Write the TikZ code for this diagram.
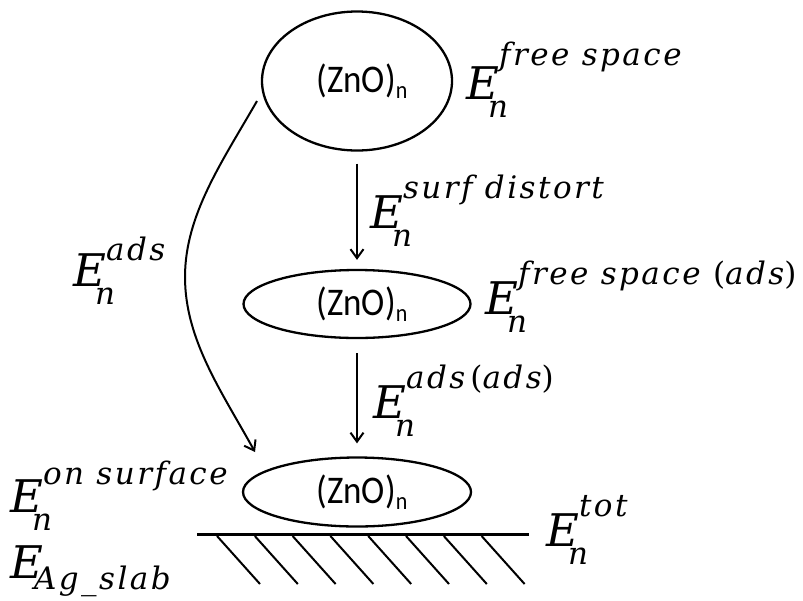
\documentclass[tikz,border=0pt]{standalone}
\usepackage{fontspec}
\usepackage{graphicx}
\usetikzlibrary{shapes.geometric,arrows.meta}
\newfontfamily\labf{DejaVu Serif}
\newfontfamily\scrf{DejaVu Serif}[LetterSpace=8]
\newfontfamily\zfont{Carlito}
\newcommand\Elab[3][31pt]{{\labf\itshape\fontsize{45}{45}\selectfont E}%
  \rlap{\hspace{-11pt}\raisebox{-18pt}{\scrf\itshape\fontsize{31}{31}\selectfont #3}}%
  \hspace{0pt}\raisebox{#1}{\scrf\itshape\fontsize{31}{31}\selectfont #2}}
\newcommand\Esub[1]{{\labf\itshape\fontsize{45}{45}\selectfont E}%
  \hspace{-9pt}\raisebox{-11pt}{\scrf\itshape\fontsize{31}{31}\selectfont #1}}
\newcommand\up[1]{{\upshape #1}}
\newcommand\zno{\hspace{10pt}\scalebox{1}[1.12]{\zfont\fontsize{35}{35}\selectfont (ZnO)\raisebox{-5pt}{\fontsize{22}{22}\selectfont n}}}
\tikzset{
  zell/.style={ellipse, draw, line width=2.3pt, inner sep=0pt},
  arr/.style={line width=2pt, -{Straight Barb[length=9pt,width=13pt,line width=2pt]}},
  lab/.style={anchor=base west, inner sep=0pt},
  hatch/.style={line width=2pt},
}
\begin{document}
\begin{tikzpicture}[x=1pt,y=-1pt]
\useasboundingbox (0,0) rectangle (803,600);
% ellipses
\node[zell, minimum width=190pt, minimum height=139pt] (e1) at (357,81) {\zno};
\node[zell, minimum width=227pt, minimum height=68pt] (e2) at (357,304) {\zno};
\node[zell, minimum width=228pt, minimum height=69pt] (e3) at (357,492) {\zno};
% vertical arrows
\draw[arr, shorten <=12pt, shorten >=9pt] (e1.south) -- (e2.north);
\draw[arr, shorten <=14pt, shorten >=13pt] (e2.south) -- (e3.north);
% curved arrow
\coordinate (cs) at (257,101);
\coordinate (cm) at (185,277);
\coordinate (ce) at (255,452);
\draw[arr] (cs) .. controls (222,162) and (185,215) .. (cm) .. controls (185,340) and (222,392) .. (ce);
% ground
\coordinate (g1) at (197,534);
\coordinate (g2) at (529,534);
\draw[line width=3pt] (g1) -- (g2);
\foreach \i in {0,...,7} {
  \draw[hatch] (217+37.8*\i,536) -- ++(43,48);
}
% labels
\node[lab] (l1) at (466,99) {\Elab[34pt]{free space}{n}};
\node[lab] (l2) at (370,228) {\Elab[30pt]{surf distort}{n}};
\node[lab] (l3) at (485,314) {\Elab[30pt]{free space \up{(}ads\up{)}}{n}};
\node[lab] (l4) at (373,418) {\Elab[30pt]{ads\,\up{(}ads\up{)}}{n}};
\node[lab] (l5) at (73,286) {\Elab[26pt]{ads}{n}};
\node[lab] (l6) at (10,512) {\Elab[28pt]{on surface}{n}};
\node[lab] (l7) at (10,578) {\Esub{Ag\_slab}};
\node[lab] (l8) at (546,546) {\Elab[30pt]{tot}{n}};
\end{tikzpicture}
\end{document}
